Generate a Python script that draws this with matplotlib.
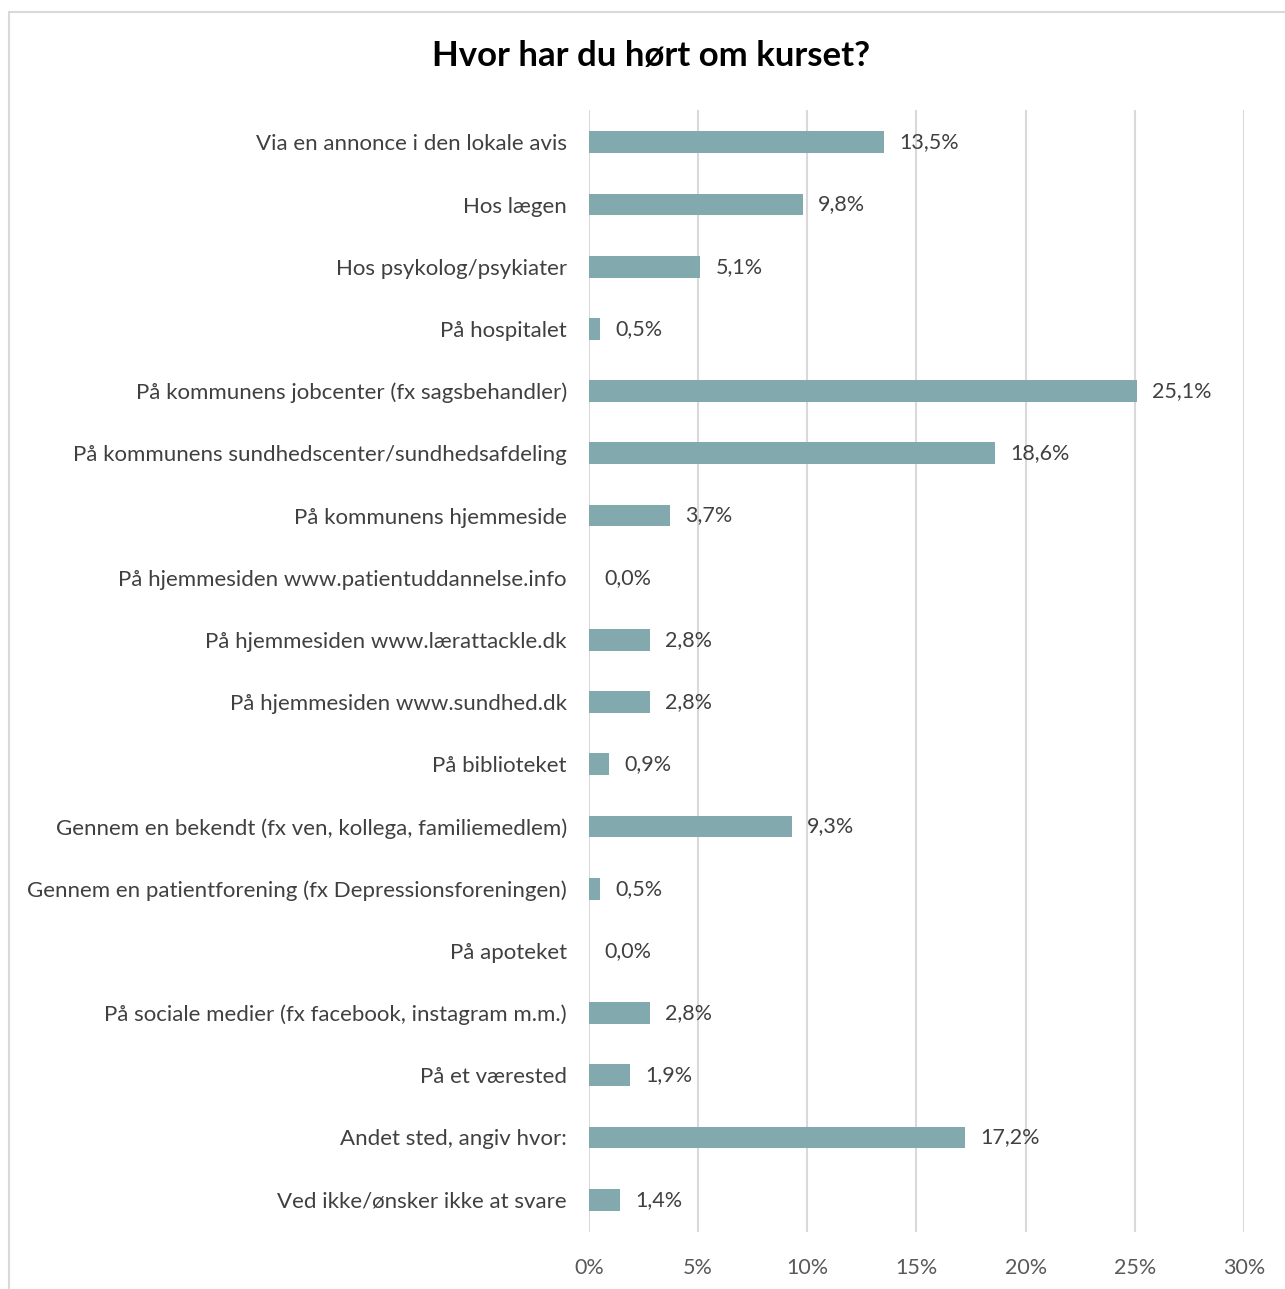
import matplotlib
matplotlib.use("Agg")
import matplotlib.pyplot as plt
from matplotlib.patches import Rectangle

categories = [
    "Via en annonce i den lokale avis",
    "Hos lægen",
    "Hos psykolog/psykiater",
    "På hospitalet",
    "På kommunens jobcenter (fx sagsbehandler)",
    "På kommunens sundhedscenter/sundhedsafdeling",
    "På kommunens hjemmeside",
    "På hjemmesiden www.patientuddannelse.info",
    "På hjemmesiden www.lærattackle.dk",
    "På hjemmesiden www.sundhed.dk",
    "På biblioteket",
    "Gennem en bekendt (fx ven, kollega, familiemedlem)",
    "Gennem en patientforening (fx Depressionsforeningen)",
    "På apoteket",
    "På sociale medier (fx facebook, instagram m.m.)",
    "På et værested",
    "Andet sted, angiv hvor:",
    "Ved ikke/ønsker ikke at svare",
]
values = [13.5, 9.8, 5.1, 0.5, 25.1, 18.6, 3.7, 0.0, 2.8, 2.8, 0.9, 9.3, 0.5, 0.0, 2.8, 1.9, 17.2, 1.4]
xticks = [0, 5, 10, 15, 20, 25, 30]

plt.rcParams["font.family"] = ["Lato", "DejaVu Sans"]

W, H = 1285, 1289
fig = plt.figure(figsize=(W / 100, H / 100), dpi=100)

# outer chart frame
fig.patches.append(Rectangle((9 / W, -0.01), 1.1, 1 - 12 / H + 0.01,
                             transform=fig.transFigure, fill=False,
                             edgecolor="#d9d9d9", linewidth=1.5))

ax = fig.add_axes([589 / W, 1 - 1232 / H, (1244 - 589) / W, (1232 - 110) / H])
ypos = list(range(len(categories)))
ax.barh(ypos, values, height=0.35, color="#82a9ae", zorder=3)

for y, v in zip(ypos, values):
    ax.text(v + 0.7, y, f"{v:.1f}%".replace(".", ","), va="center", ha="left",
            fontsize=15.5, color="#404040", zorder=4)

ax.set_xlim(0, 30)
ax.set_ylim(len(categories) - 0.48, -0.52)
ax.set_xticks(xticks)
ax.set_xticklabels([f"{t}%" for t in xticks], fontsize=15.5, color="#595959")
ax.set_yticks(ypos)
ax.set_yticklabels(categories, fontsize=16, color="#404040")
ax.tick_params(axis="both", length=0)
ax.tick_params(axis="y", pad=16)
ax.tick_params(axis="x", pad=19)
ax.grid(axis="x", color="#d9d9d9", linewidth=1.5, zorder=0)
for s in ax.spines.values():
    s.set_visible(False)

fig.text(651 / W, 1 - 56 / H, "Hvor har du hørt om kurset?",
         ha="center", va="center", fontsize=25, fontweight="bold", color="#000000")

fig.savefig("out.png", dpi=100)
